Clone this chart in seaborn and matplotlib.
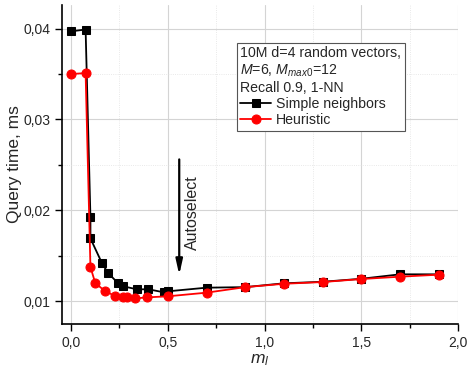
import matplotlib
matplotlib.use("Agg")
import matplotlib.pyplot as plt
from matplotlib.ticker import MultipleLocator, FuncFormatter
import seaborn as sns
import pandas as pd

# ---- data ----
simple_x = [0.0, 0.075, 0.1, 0.1, 0.16, 0.19, 0.24, 0.27, 0.34, 0.40, 0.48, 0.50, 0.70, 0.90, 1.10, 1.30, 1.50, 1.70, 1.90]
simple_y = [0.0397, 0.0399, 0.0192, 0.0169, 0.01415, 0.01312, 0.01202, 0.01162, 0.01129, 0.01129, 0.01096, 0.01107, 0.01147, 0.01153, 0.01195, 0.01212, 0.01245, 0.01294, 0.01294]
heur_x = [0.0, 0.075, 0.1, 0.125, 0.175, 0.225, 0.27, 0.29, 0.33, 0.39, 0.50, 0.70, 0.90, 1.10, 1.30, 1.50, 1.70, 1.90]
heur_y = [0.0350, 0.0351, 0.01374, 0.01198, 0.01110, 0.01058, 0.01042, 0.01042, 0.01028, 0.01040, 0.01052, 0.01092, 0.01153, 0.01190, 0.01209, 0.01242, 0.01268, 0.01290]
series_labels = ["Simple neighbors", "Heuristic"]
legend_title = "10M d=4 random vectors,\n$M$=6, $M_{max0}$=12\nRecall 0.9, 1-NN"
arrow_label = "Autoselect"
arrow_x = 0.559
arrow_from = 0.0259
arrow_to = 0.01257

sns.set_style("white")
plt.rcParams["font.family"] = ["Liberation Sans", "DejaVu Sans"]
plt.rcParams["mathtext.fontset"] = "custom"
plt.rcParams["mathtext.rm"] = "Liberation Sans"
plt.rcParams["mathtext.it"] = "Liberation Sans:italic"

fig = plt.figure(figsize=(4.68, 3.75), dpi=100)
ax = fig.add_axes([62/468, 51/375, 396/468, 319/375])

df_s = pd.DataFrame({"x": simple_x, "y": simple_y})
df_h = pd.DataFrame({"x": heur_x, "y": heur_y})
sns.lineplot(data=df_s, x="x", y="y", ax=ax, color="black", marker="s", markersize=5.5,
             markeredgecolor="black", linewidth=1.3, sort=False, estimator=None,
             label=series_labels[0], zorder=3)
sns.lineplot(data=df_h, x="x", y="y", ax=ax, color="red", marker="o", markersize=6.5,
             markeredgecolor="red", linewidth=1.3, sort=False, estimator=None,
             label=series_labels[1], zorder=4)

ax.set_xlim(-0.047, 2.0)
ax.set_ylim(0.00747, 0.0426)

ax.xaxis.set_major_locator(MultipleLocator(0.5))
ax.xaxis.set_minor_locator(MultipleLocator(0.25))
ax.yaxis.set_major_locator(MultipleLocator(0.01))
ax.yaxis.set_minor_locator(MultipleLocator(0.005))
ax.xaxis.set_major_formatter(FuncFormatter(lambda v, p: f"{v:.1f}".replace(".", ",")))
ax.yaxis.set_major_formatter(FuncFormatter(lambda v, p: f"{v:.2f}".replace(".", ",")))

ax.grid(True, which="major", color="#d4d4d4", linewidth=0.8, linestyle="-")
ax.grid(True, which="minor", color="#e2e2e2", linewidth=0.6, linestyle=":")
ax.set_axisbelow(True)

for s in ["top", "right"]:
    ax.spines[s].set_visible(False)
for s in ["left", "bottom"]:
    ax.spines[s].set_color("black")
    ax.spines[s].set_linewidth(1.2)

ax.tick_params(axis="both", which="major", direction="out", length=5, width=1, color="black",
               labelsize=10, bottom=True, left=True)
ax.tick_params(axis="both", which="minor", direction="out", length=3, width=1, color="black",
               bottom=True, left=True)

ax.set_xlabel("$m_l$", fontsize=12.5, labelpad=2)
ax.set_ylabel("Query time, ms", fontsize=12.5, labelpad=1)

ax.annotate("", xy=(arrow_x, arrow_to), xytext=(arrow_x, arrow_from),
            arrowprops=dict(arrowstyle="-|>,head_length=0.9,head_width=0.2", color="black", lw=1.6))
ax.text(0.625, 0.01975, arrow_label, rotation=90, ha="center", va="center", fontsize=11.5)

leg = ax.legend(title=legend_title, loc="upper left", bbox_to_anchor=(0.441, 0.882),
                borderaxespad=0, fontsize=10.2, title_fontsize=10.2, alignment="left",
                frameon=True, fancybox=False, edgecolor="#555555", framealpha=1,
                handlelength=2.2, handletextpad=0.3, borderpad=0.25, labelspacing=0.15)
leg.get_frame().set_linewidth(0.8)

fig.savefig("out.png", dpi=100)
